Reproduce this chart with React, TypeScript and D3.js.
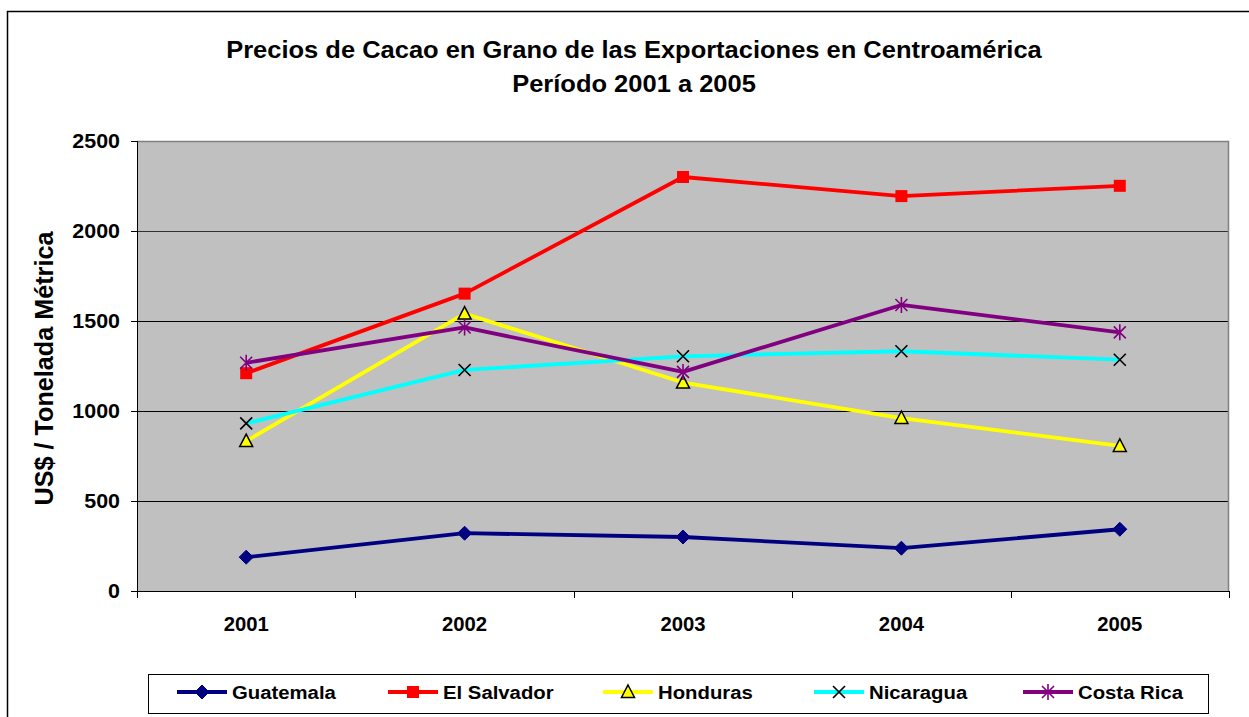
import React from "react";
import * as d3 from "d3";

const years = ["2001", "2002", "2003", "2004", "2005"];
const guatemala = [188, 321, 300, 238, 343];
const elSalvador = [1210, 1652, 2300, 2194, 2251];
const honduras = [833, 1541, 1158, 961, 806];
const nicaragua = [931, 1228, 1304, 1332, 1285];
const costaRica = [1268, 1464, 1217, 1589, 1437];
const yTicks = [0, 500, 1000, 1500, 2000, 2500];

const titleLine1 = "Precios de Cacao en Grano de las Exportaciones en Centroamérica";
const titleLine2 = "Período 2001 a 2005";
const yTitle = "US$ / Tonelada Métrica";

type Marker = "diamond" | "square" | "triangle" | "x" | "asterisk";
const series: { name: string; values: number[]; color: string; marker: Marker }[] = [
  { name: "Guatemala", values: guatemala, color: "#000080", marker: "diamond" },
  { name: "El Salvador", values: elSalvador, color: "#FF0000", marker: "square" },
  { name: "Honduras", values: honduras, color: "#FFFF00", marker: "triangle" },
  { name: "Nicaragua", values: nicaragua, color: "#00FFFF", marker: "x" },
  { name: "Costa Rica", values: costaRica, color: "#800080", marker: "asterisk" },
];

const W = 1249;
const H = 717;
const plot = { left: 137, right: 1229, top: 141, bottom: 591 };
const FONT = "Arial, 'Liberation Sans', sans-serif";

function markerEl(m: Marker, cx: number, cy: number, color: string, key: string) {
  switch (m) {
    case "diamond":
      return (
        <path key={key} d={`M${cx},${cy - 7}L${cx + 7},${cy}L${cx},${cy + 7}L${cx - 7},${cy}Z`} fill={color} stroke={color} strokeWidth={1} />
      );
    case "square":
      return <rect key={key} x={cx - 6} y={cy - 6} width={12} height={12} fill={color} />;
    case "triangle":
      return (
        <path key={key} d={`M${cx},${cy - 7}L${cx + 6.5},${cy + 5.5}L${cx - 6.5},${cy + 5.5}Z`} fill={color} stroke="#000" strokeWidth={1.5} strokeLinejoin="miter" />
      );
    case "x":
      return (
        <path key={key} d={`M${cx - 6},${cy - 6}L${cx + 6},${cy + 6}M${cx + 6},${cy - 6}L${cx - 6},${cy + 6}`} stroke="#000" strokeWidth={1.6} fill="none" />
      );
    case "asterisk":
      return (
        <path key={key} d={`M${cx - 6},${cy - 6}L${cx + 6},${cy + 6}M${cx + 6},${cy - 6}L${cx - 6},${cy + 6}M${cx},${cy - 8}L${cx},${cy + 8}`} stroke={color} strokeWidth={1.6} fill="none" />
      );
  }
}

const legendLineStart = [177, 388, 603, 814, 1023];

export default function App() {
  const x = d3.scaleBand<string>().domain(years).range([plot.left, plot.right]);
  const y = d3.scaleLinear().domain([0, 2500]).range([plot.bottom, plot.top]);
  const cx = (yr: string) => (x(yr) ?? 0) + x.bandwidth() / 2;
  const line = d3
    .line<number>()
    .x((_, i) => cx(years[i]))
    .y((v) => y(v));

  const boundaries = [...years.map((yr) => x(yr) ?? 0), plot.right];

  return (
    <svg width={W} height={H} style={{ position: "absolute", left: 0, top: 0, background: "#fff" }} fontFamily={FONT}>
      <rect x={0} y={0} width={W} height={H} fill="#fff" />
      {/* chart frame */}
      <rect x={7.5} y={11.5} width={1400} height={900} fill="none" stroke="#000" strokeWidth={1.5} />

      {/* titles */}
      <g fontWeight="bold" fill="#000" textAnchor="middle">
        <text transform={`translate(634,58) scale(1.085,1)`} fontSize={23.5}>{titleLine1}</text>
        <text transform={`translate(634,92) scale(1.085,1)`} fontSize={23.5}>{titleLine2}</text>
      </g>

      {/* plot background */}
      <rect x={plot.left} y={plot.top} width={plot.right - plot.left} height={plot.bottom - plot.top} fill="#C0C0C0" />
      {/* gridlines */}
      {yTicks.filter((t) => t > 0 && t < 2500).map((t) => (
        <line key={t} x1={plot.left} x2={plot.right} y1={Math.round(y(t)) + 0.5} y2={Math.round(y(t)) + 0.5} stroke={t === 2000 ? "#303030" : "#000"} strokeWidth={1} />
      ))}
      {/* gray border top/right */}
      <path d={`M${plot.left},${plot.top + 0.5}H${plot.right - 0.5}V${plot.bottom}`} stroke="#808080" strokeWidth={1.5} fill="none" />

      {/* axes */}
      <line x1={plot.left + 0.5} x2={plot.left + 0.5} y1={plot.top} y2={plot.bottom} stroke="#000" />
      <line x1={plot.left} x2={plot.right} y1={plot.bottom + 0.5} y2={plot.bottom + 0.5} stroke="#000" />
      {yTicks.map((t) => (
        <g key={t}>
          <line x1={plot.left - 6} x2={plot.left} y1={Math.round(y(t)) + 0.5} y2={Math.round(y(t)) + 0.5} stroke="#000" />
          <text transform={`translate(120,${y(t) + 7}) scale(1.1,1)`} textAnchor="end" fontSize={19.5} fontWeight="bold">{t}</text>
        </g>
      ))}
      {boundaries.map((b, i) => (
        <line key={i} x1={Math.round(b) + 0.5} x2={Math.round(b) + 0.5} y1={plot.bottom} y2={plot.bottom + 7} stroke="#000" />
      ))}
      {years.map((yr) => (
        <text key={yr} transform={`translate(${cx(yr)},631) scale(1.04,1)`} textAnchor="middle" fontSize={19.5} fontWeight="bold">{yr}</text>
      ))}
      <text transform={`translate(53,368.5) rotate(-90)`} textAnchor="middle" fontSize={25.2} fontWeight="bold">{yTitle}</text>

      {/* series */}
      {series.map((s) => (
        <g key={s.name}>
          <path d={line(s.values) ?? ""} fill="none" stroke={s.color} strokeWidth={3.8} strokeLinejoin="round" />
          {s.values.map((v, i) => markerEl(s.marker, cx(years[i]), y(v), s.color, `${s.name}-${i}`))}
        </g>
      ))}

      {/* legend */}
      <rect x={148.5} y={674.5} width={1060} height={39} fill="#fff" stroke="#000" strokeWidth={1} />
      {series.map((s, i) => {
        const lx = legendLineStart[i];
        return (
          <g key={s.name}>
            <line x1={lx} x2={lx + 50} y1={692} y2={692} stroke={s.color} strokeWidth={3.8} />
            {markerEl(s.marker, lx + 25, 692, s.color, "m")}
            <text transform={`translate(${lx + 55},699) scale(1.07,1)`} fontSize={19} fontWeight="bold">{s.name}</text>
          </g>
        );
      })}
    </svg>
  );
}
